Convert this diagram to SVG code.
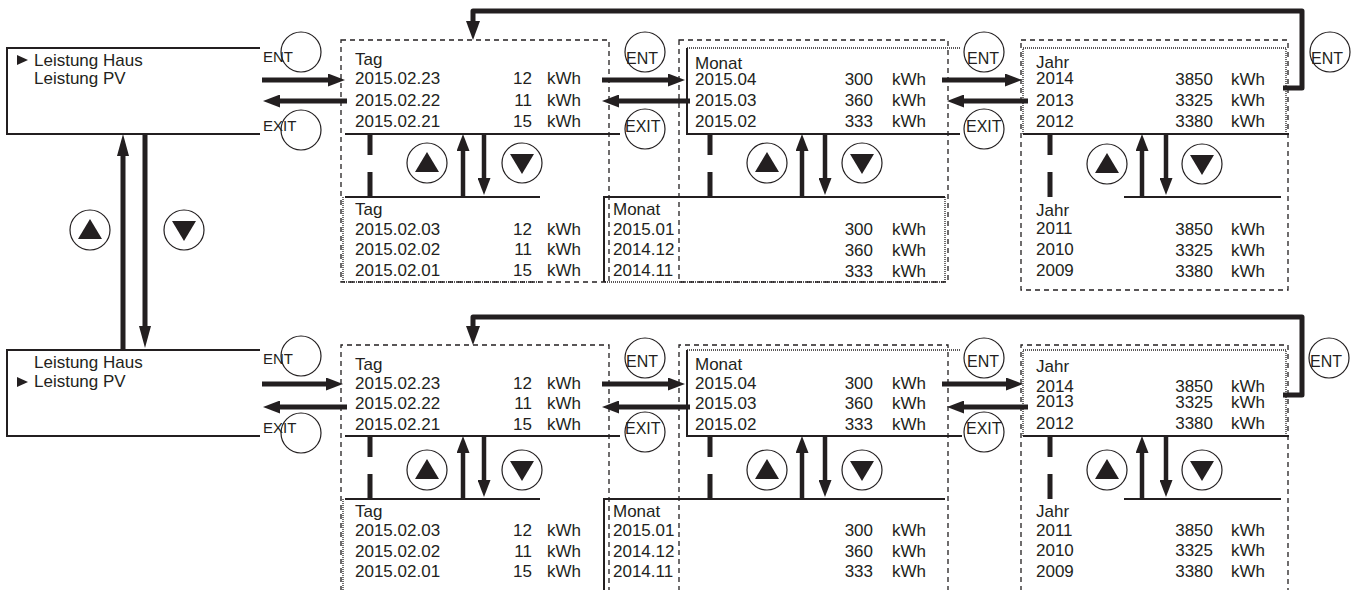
<svg xmlns="http://www.w3.org/2000/svg" xmlns:xlink="http://www.w3.org/1999/xlink" width="1357" height="590" viewBox="0 0 1357 590">
<style>
.t{font-family:"Liberation Sans",Arial,sans-serif;font-size:17px;fill:#231f20}
.s{font-size:15px}
.s2{font-size:16px}
.e{text-anchor:end}
.box{fill:none;stroke:#231f20;stroke-width:2}
.dash{fill:none;stroke:#231f20;stroke-width:1.3;stroke-dasharray:5 4}
.dot{fill:none;stroke:#231f20;stroke-width:1.3;stroke-dasharray:1 1}
.circ{fill:none;stroke:#231f20;stroke-width:1.2}
.thk{fill:none;stroke:#231f20;stroke-width:5}
.arr{fill:none;stroke:#231f20;stroke-width:5}
.varr{fill:none;stroke:#231f20;stroke-width:4.5}
.loop{fill:none;stroke:#231f20;stroke-width:5;stroke-linejoin:round}
.fill{fill:#231f20}
</style>
<defs>
<marker id="a1" markerUnits="userSpaceOnUse" markerWidth="17" markerHeight="13" refX="0" refY="6.5" orient="auto"><path d="M0,0 L17,6.5 L0,13 z" class="fill"/></marker>
<marker id="a2" markerUnits="userSpaceOnUse" markerWidth="22" markerHeight="12" refX="0" refY="6" orient="auto"><path d="M0,0 L22,6 L0,12 z" class="fill"/></marker>
<marker id="a3" markerUnits="userSpaceOnUse" markerWidth="19" markerHeight="14" refX="0" refY="7" orient="auto"><path d="M0,0 L19,7 L0,14 z" class="fill"/></marker>
<g id="up"><circle r="20" class="circ"/><path d="M-12,9 L12,9 L0,-11 z" class="fill"/></g>
<g id="dn"><circle r="20" class="circ"/><path d="M-12,-9 L12,-9 L0,11 z" class="fill"/></g>
<g id="gap"><path d="M0,0 V21 M0,38 V63" class="thk"/></g>
</defs>
<rect width="1357" height="590" fill="#fff"/>

<!-- Row 1 -->
<g id="menu1">
<path d="M260,48 H7 V134 H260" class="box"/>
<path d="M17,55 L17,65 L28,60 z" class="fill"/>
<text class="t" x="34" y="66">Leistung Haus</text>
<text class="t" x="34" y="84">Leistung PV</text>
</g>
<g id="tag1">
<rect x="341" y="40" width="268" height="242" class="dash"/>
<path d="M345,134 H620 M345,197 H540" class="box"/>
<path d="M343,197 V282 H540" class="dot"/>
<use xlink:href="#gap" x="370" y="134"/>
<text class="t" x="355" y="65">Tag</text>
<text class="t" x="355" y="84">2015.02.23</text><text class="t e" x="532" y="84">12</text><text class="t" x="547" y="84">kWh</text>
<text class="t" x="355" y="106">2015.02.22</text><text class="t e" x="532" y="106">11</text><text class="t" x="547" y="106">kWh</text>
<text class="t" x="355" y="127">2015.02.21</text><text class="t e" x="532" y="127">15</text><text class="t" x="547" y="127">kWh</text>
<text class="t" x="355" y="215">Tag</text>
<text class="t" x="355" y="235">2015.02.03</text><text class="t e" x="532" y="235">12</text><text class="t" x="547" y="235">kWh</text>
<text class="t" x="355" y="255">2015.02.02</text><text class="t e" x="532" y="255">11</text><text class="t" x="547" y="255">kWh</text>
<text class="t" x="355" y="276">2015.02.01</text><text class="t e" x="532" y="276">15</text><text class="t" x="547" y="276">kWh</text>
</g>
<g id="monat1">
<rect x="679" y="40" width="269" height="242" class="dash"/>
<path d="M687,48 V134 H960 M604,282 V197 H945" class="box"/>
<path d="M687,48 H960 M945,197 V282 H604" class="dot"/>
<use xlink:href="#gap" x="710" y="134"/>
<text class="t" x="695" y="69">Monat</text>
<text class="t" x="695" y="85">2015.04</text><text class="t e" x="873" y="85">300</text><text class="t" x="892" y="85">kWh</text>
<text class="t" x="695" y="106">2015.03</text><text class="t e" x="873" y="106">360</text><text class="t" x="892" y="106">kWh</text>
<text class="t" x="695" y="127">2015.02</text><text class="t e" x="873" y="127">333</text><text class="t" x="892" y="127">kWh</text>
<text class="t" x="613" y="215">Monat</text>
<text class="t" x="613" y="235">2015.01</text><text class="t e" x="873" y="235">300</text><text class="t" x="892" y="235">kWh</text>
<text class="t" x="613" y="255">2014.12</text><text class="t e" x="873" y="256">360</text><text class="t" x="892" y="256">kWh</text>
<text class="t" x="613" y="276">2014.11</text><text class="t e" x="873" y="277">333</text><text class="t" x="892" y="277">kWh</text>
</g>
<g id="jahr1">
<rect x="1021" y="40" width="267" height="250" class="dash"/>
<path d="M1023,134 V48 H1286 V134" class="dot"/>
<path d="M1023,134 H1289 M1124,197 H1281" class="box"/>
<use xlink:href="#gap" x="1050" y="134"/>
<text class="t" x="1036" y="68">Jahr</text>
<text class="t" x="1036" y="84">2014</text><text class="t e" x="1213" y="85">3850</text><text class="t" x="1231" y="85">kWh</text>
<text class="t" x="1036" y="106">2013</text><text class="t e" x="1213" y="106">3325</text><text class="t" x="1231" y="106">kWh</text>
<text class="t" x="1036" y="127">2012</text><text class="t e" x="1213" y="127">3380</text><text class="t" x="1231" y="127">kWh</text>
<text class="t" x="1036" y="216">Jahr</text>
<text class="t" x="1036" y="234">2011</text><text class="t e" x="1213" y="235">3850</text><text class="t" x="1231" y="235">kWh</text>
<text class="t" x="1036" y="255">2010</text><text class="t e" x="1213" y="256">3325</text><text class="t" x="1231" y="256">kWh</text>
<text class="t" x="1036" y="276">2009</text><text class="t e" x="1213" y="277">3380</text><text class="t" x="1231" y="277">kWh</text>
</g>

<!-- Row 2 -->
<g id="menu2">
<path d="M260,350 H7 V436 H260" class="box"/>
<path d="M17,377 L17,387 L28,382 z" class="fill"/>
<text class="t" x="34" y="368">Leistung Haus</text>
<text class="t" x="34" y="387">Leistung PV</text>
</g>
<g id="tag2">
<path d="M341,600 V345 H609 V600" class="dash"/>
<path d="M345,436 H620 M345,499 H540" class="box"/>
<path d="M343,499 V600" class="dot"/>
<use xlink:href="#gap" x="370" y="436"/>
<text class="t" x="355" y="370">Tag</text>
<text class="t" x="355" y="389">2015.02.23</text><text class="t e" x="532" y="389">12</text><text class="t" x="547" y="389">kWh</text>
<text class="t" x="355" y="409">2015.02.22</text><text class="t e" x="532" y="409">11</text><text class="t" x="547" y="409">kWh</text>
<text class="t" x="355" y="430">2015.02.21</text><text class="t e" x="532" y="430">15</text><text class="t" x="547" y="430">kWh</text>
<text class="t" x="355" y="517">Tag</text>
<text class="t" x="355" y="536">2015.02.03</text><text class="t e" x="532" y="536">12</text><text class="t" x="547" y="536">kWh</text>
<text class="t" x="355" y="557">2015.02.02</text><text class="t e" x="532" y="557">11</text><text class="t" x="547" y="557">kWh</text>
<text class="t" x="355" y="577">2015.02.01</text><text class="t e" x="532" y="577">15</text><text class="t" x="547" y="577">kWh</text>
</g>
<g id="monat2">
<path d="M679,600 V345 H948 V600" class="dash"/>
<path d="M687,350 V436 H962 M604,600 V499 H945" class="box"/>
<path d="M687,350 H960" class="dot"/>
<use xlink:href="#gap" x="710" y="436"/>
<text class="t" x="695" y="370">Monat</text>
<text class="t" x="695" y="389">2015.04</text><text class="t e" x="873" y="389">300</text><text class="t" x="892" y="389">kWh</text>
<text class="t" x="695" y="409">2015.03</text><text class="t e" x="873" y="409">360</text><text class="t" x="892" y="409">kWh</text>
<text class="t" x="695" y="430">2015.02</text><text class="t e" x="873" y="430">333</text><text class="t" x="892" y="430">kWh</text>
<text class="t" x="613" y="517">Monat</text>
<text class="t" x="613" y="536">2015.01</text><text class="t e" x="873" y="536">300</text><text class="t" x="892" y="536">kWh</text>
<text class="t" x="613" y="557">2014.12</text><text class="t e" x="873" y="557">360</text><text class="t" x="892" y="557">kWh</text>
<text class="t" x="613" y="577">2014.11</text><text class="t e" x="873" y="577">333</text><text class="t" x="892" y="577">kWh</text>
</g>
<g id="jahr2">
<path d="M1021,600 V345 H1288 V600" class="dash"/>
<path d="M1023,436 V350 H1286 V436" class="dot"/>
<path d="M1023,436 H1289 M1124,499 H1281" class="box"/>
<use xlink:href="#gap" x="1050" y="436"/>
<text class="t" x="1036" y="372">Jahr</text>
<text class="t" x="1036" y="392">2014</text><text class="t e" x="1213" y="392">3850</text><text class="t" x="1231" y="392">kWh</text>
<text class="t" x="1036" y="407">2013</text><text class="t e" x="1213" y="408">3325</text><text class="t" x="1231" y="408">kWh</text>
<text class="t" x="1036" y="429">2012</text><text class="t e" x="1213" y="429">3380</text><text class="t" x="1231" y="429">kWh</text>
<text class="t" x="1036" y="517">Jahr</text>
<text class="t" x="1036" y="536">2011</text><text class="t e" x="1213" y="536">3850</text><text class="t" x="1231" y="536">kWh</text>
<text class="t" x="1036" y="556">2010</text><text class="t e" x="1213" y="556">3325</text><text class="t" x="1231" y="556">kWh</text>
<text class="t" x="1036" y="577">2009</text><text class="t e" x="1213" y="577">3380</text><text class="t" x="1231" y="577">kWh</text>
</g>

<!-- Buttons -->
<g id="buttons">
<circle cx="301" cy="52" r="20" class="circ"/><text class="t s" x="263" y="62">ENT</text>
<circle cx="301" cy="130" r="20" class="circ"/><text class="t s" x="263" y="131">EXIT</text>
<circle cx="645" cy="52" r="20" class="circ"/><text class="t s2" x="626" y="64">ENT</text>
<circle cx="645" cy="129" r="20" class="circ"/><text class="t s2" x="625" y="132">EXIT</text>
<circle cx="984" cy="52" r="20" class="circ"/><text class="t s2" x="967" y="64">ENT</text>
<circle cx="984" cy="129" r="20" class="circ"/><text class="t s2" x="966" y="132">EXIT</text>
<circle cx="1330" cy="52" r="20" class="circ"/><text class="t s2" x="1311" y="64">ENT</text>
<use xlink:href="#up" x="90" y="230"/><use xlink:href="#dn" x="184" y="230"/>
<use xlink:href="#up" x="427" y="163"/><use xlink:href="#dn" x="522" y="163"/>
<use xlink:href="#up" x="767" y="163"/><use xlink:href="#dn" x="862" y="163"/>
<use xlink:href="#up" x="1107" y="164"/><use xlink:href="#dn" x="1202" y="164"/>
<circle cx="301" cy="356" r="20" class="circ"/><text class="t s" x="263" y="364">ENT</text>
<circle cx="301" cy="433" r="20" class="circ"/><text class="t s" x="263" y="433">EXIT</text>
<circle cx="645" cy="358" r="20" class="circ"/><text class="t s2" x="626" y="367">ENT</text>
<circle cx="645" cy="432" r="20" class="circ"/><text class="t s2" x="625" y="434">EXIT</text>
<circle cx="984" cy="358" r="20" class="circ"/><text class="t s2" x="967" y="367">ENT</text>
<circle cx="984" cy="432" r="20" class="circ"/><text class="t s2" x="966" y="434">EXIT</text>
<circle cx="1329" cy="358" r="20" class="circ"/><text class="t s2" x="1310" y="367">ENT</text>
<use xlink:href="#up" x="427" y="470"/><use xlink:href="#dn" x="522" y="470"/>
<use xlink:href="#up" x="767" y="470"/><use xlink:href="#dn" x="862" y="470"/>
<use xlink:href="#up" x="1107" y="470"/><use xlink:href="#dn" x="1202" y="470"/>
</g>

<!-- Connectors -->
<g id="connectors">
<path d="M262,80 H328" class="arr" marker-end="url(#a1)"/>
<path d="M602,80 H668" class="arr" marker-end="url(#a1)"/>
<path d="M942,80 H1005" class="arr" marker-end="url(#a1)"/>
<path d="M347,101 H280" class="arr" marker-end="url(#a1)"/>
<path d="M690,101 H619" class="arr" marker-end="url(#a1)"/>
<path d="M1028,101 H964" class="arr" marker-end="url(#a1)"/>
<path d="M262,384 H326" class="arr" marker-end="url(#a1)"/>
<path d="M602,384 H668" class="arr" marker-end="url(#a1)"/>
<path d="M942,384 H1006" class="arr" marker-end="url(#a1)"/>
<path d="M347,407 H280" class="arr" marker-end="url(#a1)"/>
<path d="M690,407 H619" class="arr" marker-end="url(#a1)"/>
<path d="M1028,407 H964" class="arr" marker-end="url(#a1)"/>
<path d="M123,350 V156" class="arr" marker-end="url(#a2)"/>
<path d="M145,134 V326" class="arr" marker-end="url(#a2)"/>
<path d="M463,197 V151" class="varr" marker-end="url(#a1)"/>
<path d="M484,134 V178" class="varr" marker-end="url(#a1)"/>
<path d="M802,197 V151" class="varr" marker-end="url(#a1)"/>
<path d="M825,134 V178" class="varr" marker-end="url(#a1)"/>
<path d="M1142,197 V151" class="varr" marker-end="url(#a1)"/>
<path d="M1166,134 V178" class="varr" marker-end="url(#a1)"/>
<path d="M463,499 V453" class="varr" marker-end="url(#a1)"/>
<path d="M484,436 V480" class="varr" marker-end="url(#a1)"/>
<path d="M802,499 V453" class="varr" marker-end="url(#a1)"/>
<path d="M825,436 V480" class="varr" marker-end="url(#a1)"/>
<path d="M1142,499 V453" class="varr" marker-end="url(#a1)"/>
<path d="M1166,436 V480" class="varr" marker-end="url(#a1)"/>
<path d="M1283,88 H1302 V11 H473 V21" class="loop" marker-end="url(#a3)"/>
<path d="M1283,395 H1302 V317 H473 V326" class="loop" marker-end="url(#a3)"/>
</g>
</svg>
